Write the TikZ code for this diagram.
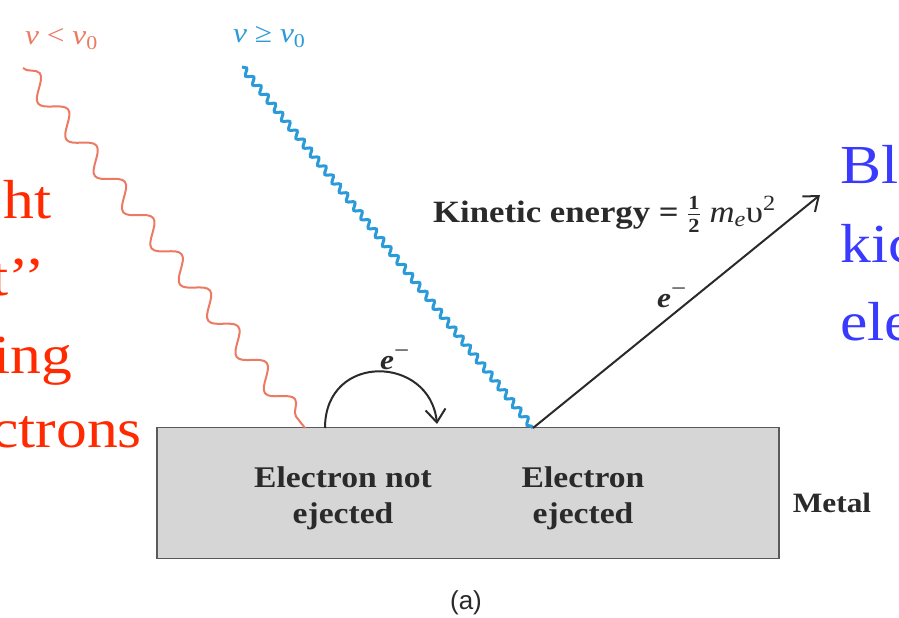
\RequirePackage{fix-cm}
\documentclass[tikz,border=0pt]{standalone}
\usepackage{fontspec}
\setmainfont{Liberation Serif}[FakeStretch=1.12]
\newfontfamily\labelsans{Liberation Sans}
\usetikzlibrary{decorations.pathmorphing,arrows.meta}
\definecolor{redwave}{HTML}{EC7A62}
\definecolor{bluewave}{HTML}{2A9AD8}
\definecolor{redtext}{HTML}{FF2A00}
\definecolor{bluetext}{HTML}{3A3AFF}
\definecolor{metalfill}{HTML}{D6D6D6}
\definecolor{metaledge}{HTML}{5A5A5A}
\definecolor{ink}{HTML}{2A2A2A}
\tikzset{
  bigred/.style={text=redtext, font=\fontsize{55}{60}\selectfont, inner sep=0pt, anchor=base east},
  bigblue/.style={text=bluetext, font=\fontsize{55}{60}\selectfont, inner sep=0pt, anchor=base west},
  nulabel/.style={font=\fontsize{28}{30}\selectfont, inner sep=0pt, anchor=base west},
  boxtext/.style={text=ink, font=\fontsize{30}{36}\selectfont\bfseries, inner sep=0pt, anchor=base},
  elabel/.style={text=ink, font=\fontsize{28}{30}\selectfont\bfseries\itshape, inner sep=0pt, anchor=base west},
  metalbox/.style={draw=metaledge, fill=metalfill, line width=1.8pt, minimum width=622pt, minimum height=131pt, inner sep=0pt},
  photonred/.style={draw=redwave, line width=2pt, decorate, decoration={snake, segment length=46pt, amplitude=10pt}},
  photonblue/.style={draw=bluewave, line width=3pt, decorate, decoration={snake, segment length=11.5pt, amplitude=3pt}},
  electron/.style={draw=ink, line width=2pt, -{Straight Barb[length=13pt, width=20pt, line width=2pt]}},
}
\begin{document}
\begin{tikzpicture}[x=1pt, y=-1pt]
\useasboundingbox (0,0) rectangle (899,618);
\clip (0,0) rectangle (899,618);
% metal slab
\node[metalbox] (metal) at (468,493) {};
% photons
\coordinate (rs) at (23,68);
\coordinate (rhit) at (305,428);
\coordinate (bs) at (242,67);
\coordinate (bhit) at (533,428);
\coordinate (tip) at (820,195);
\coordinate (c1) at (325,428);
\coordinate (c2) at (437,424);
\path[photonred] (rs) -- (rhit);
\path[photonblue] (bs) -- (bhit);
% electrons
\draw[electron] (bhit) -- (tip);
\draw[electron] (c1) .. controls (325,352) and (430,355) .. (c2);
% labels
\node[nulabel, text=redwave] (nulow) at (25,45) {{\itshape ν} < {\itshape ν}\textsubscript{0}};
\node[nulabel, text=bluewave] (nuhigh) at (233,43) {{\itshape ν} ≥ {\itshape ν}\textsubscript{0}};
\node[text=ink, font=\fontsize{31}{34}\selectfont\bfseries, inner sep=0pt, anchor=base west] (ke) at (433,222)
  {Kinetic energy = $\frac{\mbox{\fontsize{20}{20}\selectfont 1}}{\mbox{\fontsize{20}{20}\selectfont 2}}$ {\normalfont\itshape m\textsubscript{e}}{\normalfont υ\textsuperscript{2}}};
\node[elabel] (efree) at (657,307) {e\textsuperscript{\normalfont\fontsize{24}{24}\selectfont −}};
\node[elabel] (ebound) at (380,369) {e\textsuperscript{\normalfont\fontsize{24}{24}\selectfont −}};
\node[boxtext] (t1) at (343,487) {Electron not};
\node[boxtext] (t2) at (343,523) {ejected};
\node[boxtext] (t3) at (583,487) {Electron};
\node[boxtext] (t4) at (583,523) {ejected};
\node[boxtext, font=\fontsize{28}{32}\selectfont\bfseries] (metallabel) at (832,512) {Metal};
\node[text=ink, font=\labelsans\fontsize{26}{30}\selectfont, inner sep=0pt] (caption) at (466,603) {(a)};
% slide text fragments
\node[bigred] (r1) at (52,218) {ht};
\node[bigred] (r2) at (45,295) {t’’};
\node[bigred] (r3) at (72,373) {ing};
\node[bigred] (r4) at (142,447) {ctrons};
\node[bigblue] (b1) at (840,183) {Bl};
\node[bigblue] (b2) at (840,262) {kic};
\node[bigblue] (b3) at (840,340) {ele};
\end{tikzpicture}
\end{document}
